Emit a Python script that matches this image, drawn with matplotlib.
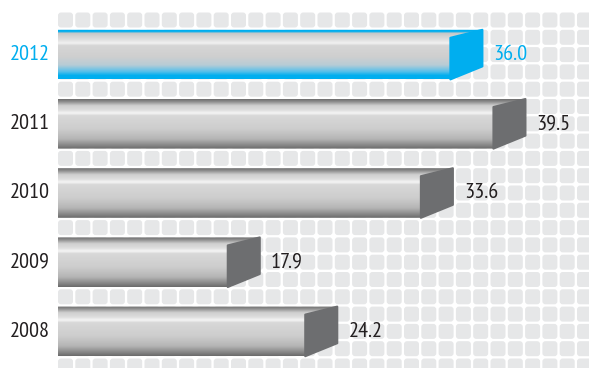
import numpy as np
import matplotlib
matplotlib.use('Agg')
import matplotlib.pyplot as plt
from matplotlib.colors import LinearSegmentedColormap
from matplotlib.patches import FancyBboxPatch, Polygon

# Data
years = ['2008', '2009', '2010', '2011', '2012']
values = [24.2, 17.9, 33.6, 39.5, 36.0]
highlight = '2012'

plt.rcParams['font.family'] = ['PT Sans Narrow', 'DejaVu Sans']

TEXT = '#231f20'
BLUE = '#00aeef'
CAP_GREY = '#6d6e70'
TILE = '#e6e7e8'

# vertical gradients for the bar bodies (top -> bottom)
grey_cmap = LinearSegmentedColormap.from_list('greybar', [
    (0.00, '#6e6e6e'), (0.05, '#8c8c8c'), (0.13, '#cfcfcf'),
    (0.22, '#dedede'), (0.28, '#f5f5f5'), (0.33, '#d8d8d8'),
    (0.60, '#cdcdcd'), (0.80, '#b5b5b5'), (0.93, '#858585'),
    (1.00, '#6a6a6a')])
blue_cmap = LinearSegmentedColormap.from_list('bluebar', [
    (0.00, BLUE), (0.05, BLUE), (0.08, '#c8c8c8'),
    (0.20, '#dddddd'), (0.28, '#f2f2f2'), (0.33, '#d6d6d6'),
    (0.55, '#cfcfcf'), (0.72, '#b8ccd6'), (0.85, '#58c0ea'),
    (0.93, BLUE), (1.00, BLUE)])

fig = plt.figure(figsize=(5.89, 3.68), dpi=100)
fig.patch.set_facecolor('white')

# background tiles, in pixel units
bg = fig.add_axes([0, 0, 1, 1])
bg.set_xlim(0, 589)
bg.set_ylim(368, 0)
bg.axis('off')
pitch = 17.3
size = 15.0
for r in range(22):
    for c in range(31):
        x = 58 + c * pitch
        y = 12.5 + r * pitch
        bg.add_patch(FancyBboxPatch((x, y), size, size,
                                    boxstyle='round,pad=0,rounding_size=3',
                                    fc=TILE, ec='none'))

# bars, in value units
ax = fig.add_axes([58 / 589, 0, 531 / 589, 1])
ax.set_facecolor('none')
ax.axis('off')

px_per_unit = 12.3
zero_px = 39.6
row_px = 69.2
h = 49.6 / row_px / 2
cap_w = 32 / px_per_unit
d_top = 8 / row_px
d_bot = 13 / row_px
grad = np.linspace(0, 1, 256).reshape(-1, 1)

for i, (yr, v) in enumerate(zip(years, values)):
    hot = yr == highlight
    top, bot = i + h, i - h
    body = Polygon([(0, top), (v, top), (v, bot + d_bot),
                    (v - cap_w, bot), (0, bot)], closed=True,
                   fc='none', ec='none')
    ax.add_patch(body)
    im = ax.imshow(grad, cmap=blue_cmap if hot else grey_cmap,
                   extent=(0, v, bot, top), aspect='auto',
                   interpolation='bilinear', zorder=2)
    im.set_clip_path(body)
    cap_col = BLUE if hot else CAP_GREY
    ax.add_patch(Polygon([(v - cap_w, top - d_top), (v, top),
                          (v, bot + d_bot), (v - cap_w, bot)], closed=True,
                         fc=cap_col, ec=cap_col, lw=1.5, joinstyle='round',
                         zorder=3))
    col = BLUE if hot else TEXT
    ax.text(v + 0.9, i, f'{v:.1f}', ha='left', va='center',
            fontsize=16, color=col, zorder=4)
    ax.text((50 - zero_px) / px_per_unit, i, yr, ha='right', va='center',
            fontsize=16, color=col, clip_on=False, zorder=4)

ax.set_xlim((58 - zero_px) / px_per_unit, (589 - zero_px) / px_per_unit)
ax.set_ylim((331.4 - 368) / row_px, 331.4 / row_px)

fig.savefig('out.png', dpi=100, facecolor='white')
